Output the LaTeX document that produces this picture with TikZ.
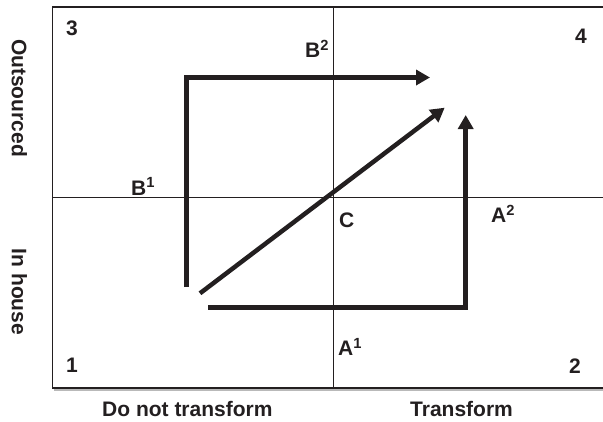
\documentclass[tikz,border=0pt]{standalone}
\usepackage{fontspec}
\setmainfont{Liberation Sans}
\usetikzlibrary{arrows.meta}
\definecolor{ink}{RGB}{35,31,32}

\begin{document}
\begin{tikzpicture}[x=1pt, y=-1pt,
  lbl/.style={font=\fontsize{21}{24}\selectfont\bfseries, text=ink, inner sep=0pt, anchor=base west},
  side/.style={font=\fontsize{21}{24}\selectfont\bfseries, text=ink, inner sep=0pt, rotate=-90},
  axis/.style={line width=1pt, draw=ink},
  move/.style={line width=4.5pt, draw=ink, line join=miter, -{Triangle[length=14pt,width=15pt]}}]

\useasboundingbox (0,0) rectangle (603,421);

% --- Marco y ejes ---
\coordinate (nw) at (52.3,7);
\coordinate (se) at (613,388);
\coordinate (c) at (333,197.3);
\draw[line width=2pt, gray!55] (54,390.2) -- (613,390.2);
\draw[line width=1.6pt, draw=ink] (nw) rectangle (se);
\draw[axis] (c |- nw) -- (c |- se);
\draw[axis] (c -| nw) -- (c -| se);

% --- Cuadrantes ---
\node[lbl] (q3) at (66,35) {3};
\node[lbl] (q4) at (575,43) {4};
\node[lbl] (q1) at (66,372.7) {1};
\node[lbl] (q2) at (569,373) {2};

% --- Puntos ---
\node[lbl] (b2) at (305,57.7) {B\textsuperscript{2}};
\node[lbl] (b1) at (131,195) {B\textsuperscript{1}};
\node[lbl] (cc) at (339,227) {C};
\node[lbl] (a2) at (491,222.7) {A\textsuperscript{2}};
\node[lbl] (a1) at (338,355.7) {A\textsuperscript{1}};

% --- Rotulos de ejes ---
\node[lbl] (dnt) at (102,416.5) {Do not transform};
\node[lbl] (tr) at (410,416.5) {Transform};
\node[side] (outs) at (19.5,98) {Outsourced};
\node[side] (inh) at (19.5,292) {In house};

% --- Trayectorias ---
\coordinate (b_start) at (186.5,287);
\coordinate (b_end) at (430,77.5);
\draw[move] (b_start) |- (b_end);

\coordinate (d_start) at (200,293.3);
\coordinate (d_end) at (444.7,107.7);
\draw[move] (d_start) -- (d_end);

\coordinate (a_start) at (208,307.5);
\coordinate (a_end) at (465.7,115);
\draw[move] (a_start) -| (a_end);

\end{tikzpicture}
\end{document}
